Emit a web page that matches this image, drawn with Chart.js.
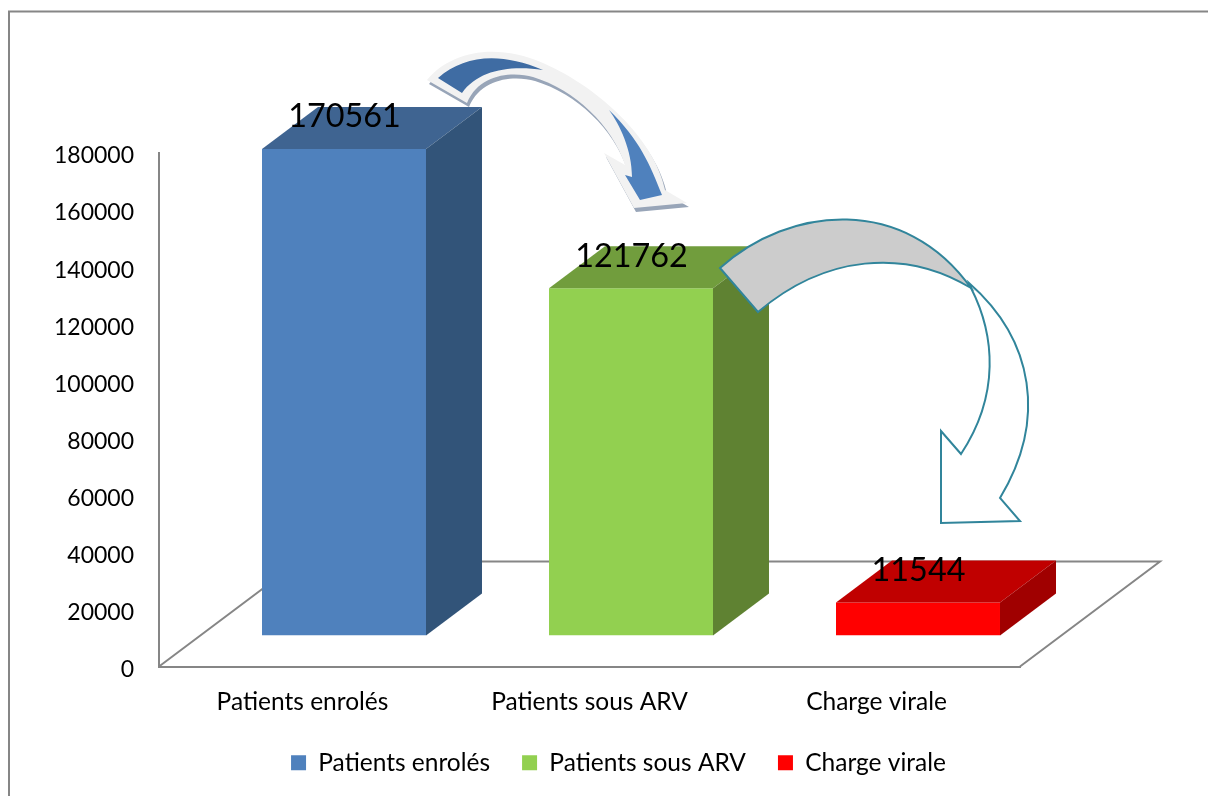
<!DOCTYPE html>
<html><head><meta charset="utf-8">
<style>html,body{margin:0;padding:0;background:#fff}canvas{display:block}</style>
<script src="https://cdn.jsdelivr.net/npm/chart.js@4"></script>
</head><body>
<div style="width:1208px;height:796px"><canvas id="c" width="1208" height="796"></canvas></div>
<script>
const categories = ["Patients enrolés", "Patients sous ARV", "Charge virale"];
const enroles = [170561, null, null];
const sousArv = [null, 121762, null];
const chargeVirale = [null, null, 11544];
const frontColors = ["#4f81bd", "#92d050", "#ff0000"];
const topColors = ["#3f6491", "#719d3d", "#c00000"];
const sideColors = ["#325479", "#5f8232", "#a00000"];

const FONT = "Lato, 'Open Sans', sans-serif";
const AXIS = "#868686";
const SHIFT_X = 41.5, SHIFT_Y = -31, DX = 56, DY = 42;

function arrow1Outline(ctx, ox, oy) {
  ctx.save(); ctx.translate(ox, oy); ctx.beginPath();
  ctx.moveTo(427, 80);
  ctx.bezierCurveTo(450, 52, 495, 42, 543, 63);
  ctx.bezierCurveTo(600, 88, 655, 140, 665, 190);
  ctx.lineTo(687, 203); ctx.lineTo(634, 208); ctx.lineTo(604, 153); ctx.lineTo(625, 165);
  ctx.bezierCurveTo(612, 125, 575, 90, 533, 77);
  ctx.bezierCurveTo(515, 72, 480, 72, 467, 103);
  ctx.closePath(); ctx.restore();
}
const decorPlugin = {
  id: "decor",
  afterLayout(chart) {
    // the legend is centred under the plot plus its depth, not under the plot alone
    chart.legend.left = 217; chart.legend.right = 1020;
  },
  beforeDraw(chart) {
    const ctx = chart.ctx;
    ctx.save();
    ctx.strokeStyle = AXIS; ctx.lineWidth = 2;
    ctx.strokeRect(9, 11.5, 1400, 1000);
    ctx.restore();
  },
  beforeDatasetsDraw(chart) {
    const ctx = chart.ctx, a = chart.chartArea;
    const bx = 140, by = 105;
    ctx.save();
    ctx.strokeStyle = AXIS; ctx.lineWidth = 2;
    ctx.beginPath();
    ctx.moveTo(a.left, a.bottom);
    ctx.lineTo(a.left + bx, a.bottom - by);
    ctx.lineTo(a.right + bx, a.bottom - by);
    ctx.lineTo(a.right, a.bottom);
    ctx.stroke();
    ctx.restore();
  },
  beforeDatasetDraw(chart) {
    chart.ctx.save();
    chart.ctx.translate(SHIFT_X, SHIFT_Y);
  },
  afterDatasetDraw(chart, args) {
    const ctx = chart.ctx, i = args.index;
    const el = chart.getDatasetMeta(i).data[i];
    const l = el.x - el.width / 2, r = el.x + el.width / 2, t = el.y, b = el.base;
    ctx.fillStyle = topColors[i];
    ctx.beginPath();
    ctx.moveTo(l, t); ctx.lineTo(l + DX, t - DY); ctx.lineTo(r + DX, t - DY); ctx.lineTo(r, t);
    ctx.closePath(); ctx.fill();
    ctx.fillStyle = sideColors[i];
    ctx.beginPath();
    ctx.moveTo(r, t); ctx.lineTo(r + DX, t - DY); ctx.lineTo(r + DX, b - DY); ctx.lineTo(r, b);
    ctx.closePath(); ctx.fill();
    ctx.restore();
  },
  afterDatasetsDraw(chart) {
    const ctx = chart.ctx;
    ctx.save();
    ctx.fillStyle = "#000";
    ctx.font = "32.4px " + FONT;
    ctx.textAlign = "center"; ctx.textBaseline = "middle";
    chart.data.datasets.forEach((ds, i) => {
      const el = chart.getDatasetMeta(i).data[i];
      ctx.fillText(String(ds.data[i]), el.x + SHIFT_X + 0.5, el.y - 63);
    });
    ctx.restore();
  },
  afterDraw(chart) {
    const ctx = chart.ctx;
    ctx.save();
    arrow1Outline(ctx, 2, 4); ctx.fillStyle = "#98a5b8"; ctx.fill();
    arrow1Outline(ctx, 0, 0); ctx.fillStyle = "#f2f2f2"; ctx.fill();
    ctx.fillStyle = "#3f6ca3";
    ctx.beginPath(); ctx.moveTo(438, 78);
    ctx.bezierCurveTo(465, 55, 500, 52, 543, 70);
    ctx.bezierCurveTo(510, 65, 478, 70, 462, 93);
    ctx.closePath(); ctx.fill();
    ctx.fillStyle = "#4f81bd";
    ctx.beginPath(); ctx.moveTo(609, 110);
    ctx.bezierCurveTo(640, 140, 650, 165, 662, 195);
    ctx.lineTo(640, 200); ctx.lineTo(625, 175); ctx.lineTo(632, 177);
    ctx.bezierCurveTo(632, 150, 620, 125, 609, 110);
    ctx.closePath(); ctx.fill();
    ctx.strokeStyle = "#31859b"; ctx.lineWidth = 2; ctx.lineJoin = "miter";
    ctx.fillStyle = "#ffffff";
    ctx.beginPath(); ctx.moveTo(969, 283);
    ctx.bezierCurveTo(1034, 340, 1047, 420, 1000, 498);
    ctx.lineTo(1020, 521); ctx.lineTo(941, 523); ctx.lineTo(941, 431); ctx.lineTo(961, 454);
    ctx.bezierCurveTo(1000, 395, 995, 335, 971, 288);
    ctx.closePath(); ctx.fill(); ctx.stroke();
    ctx.fillStyle = "#cccccc";
    ctx.beginPath(); ctx.moveTo(720, 268);
    ctx.bezierCurveTo(790, 205, 905, 195, 971, 288);
    ctx.bezierCurveTo(905, 248, 825, 255, 758, 312);
    ctx.closePath(); ctx.fill(); ctx.stroke();
    ctx.restore();
  }
};

function shiftLabels(s, dy) {
  if (s._shifted) return;
  s._shifted = true;
  const orig = s._computeLabelItems.bind(s);
  s._computeLabelItems = a => {
    const items = orig(a);
    items.forEach(it => { it.textOffset += dy; });
    return items;
  };
}

new Chart(document.getElementById("c"), {
  type: "bar",
  plugins: [decorPlugin],
  data: {
    labels: categories,
    datasets: [
      { label: categories[0], data: enroles, backgroundColor: frontColors[0] },
      { label: categories[1], data: sousArv, backgroundColor: frontColors[1] },
      { label: categories[2], data: chargeVirale, backgroundColor: frontColors[2] }
    ]
  },
  options: {
    responsive: false,
    animation: false,
    layout: { padding: { left: 0, right: 188, top: 153, bottom: 11 } },
    datasets: { bar: { categoryPercentage: 0.5714, barPercentage: 1, borderWidth: 0 } },
    scales: {
      x: {
        stacked: true,
        grid: { display: false, drawTicks: false },
        border: { display: true, color: AXIS, width: 2 },
        ticks: { color: "#000", font: { family: FONT, size: 24.5 }, padding: 20.5, maxRotation: 0, autoSkip: false },
        afterFit(s) { s.height = 52; }
      },
      y: {
        min: 0, max: 180000, stacked: true,
        grid: { display: false, drawTicks: false },
        border: { display: true, color: AXIS, width: 2 },
        ticks: { stepSize: 20000, color: "#000", font: { family: FONT, size: 23 }, padding: 25, callback: v => String(v) },
        afterFit(s) { s.width = 159; shiftLabels(s, 3); }
      }
    },
    plugins: {
      tooltip: { enabled: false },
      legend: {
        position: "bottom",
        labels: { color: "#000", boxWidth: 15, boxHeight: 15, padding: 32, font: { family: FONT, size: 24.5 } }
      }
    }
  }
});
</script>
</body></html>
